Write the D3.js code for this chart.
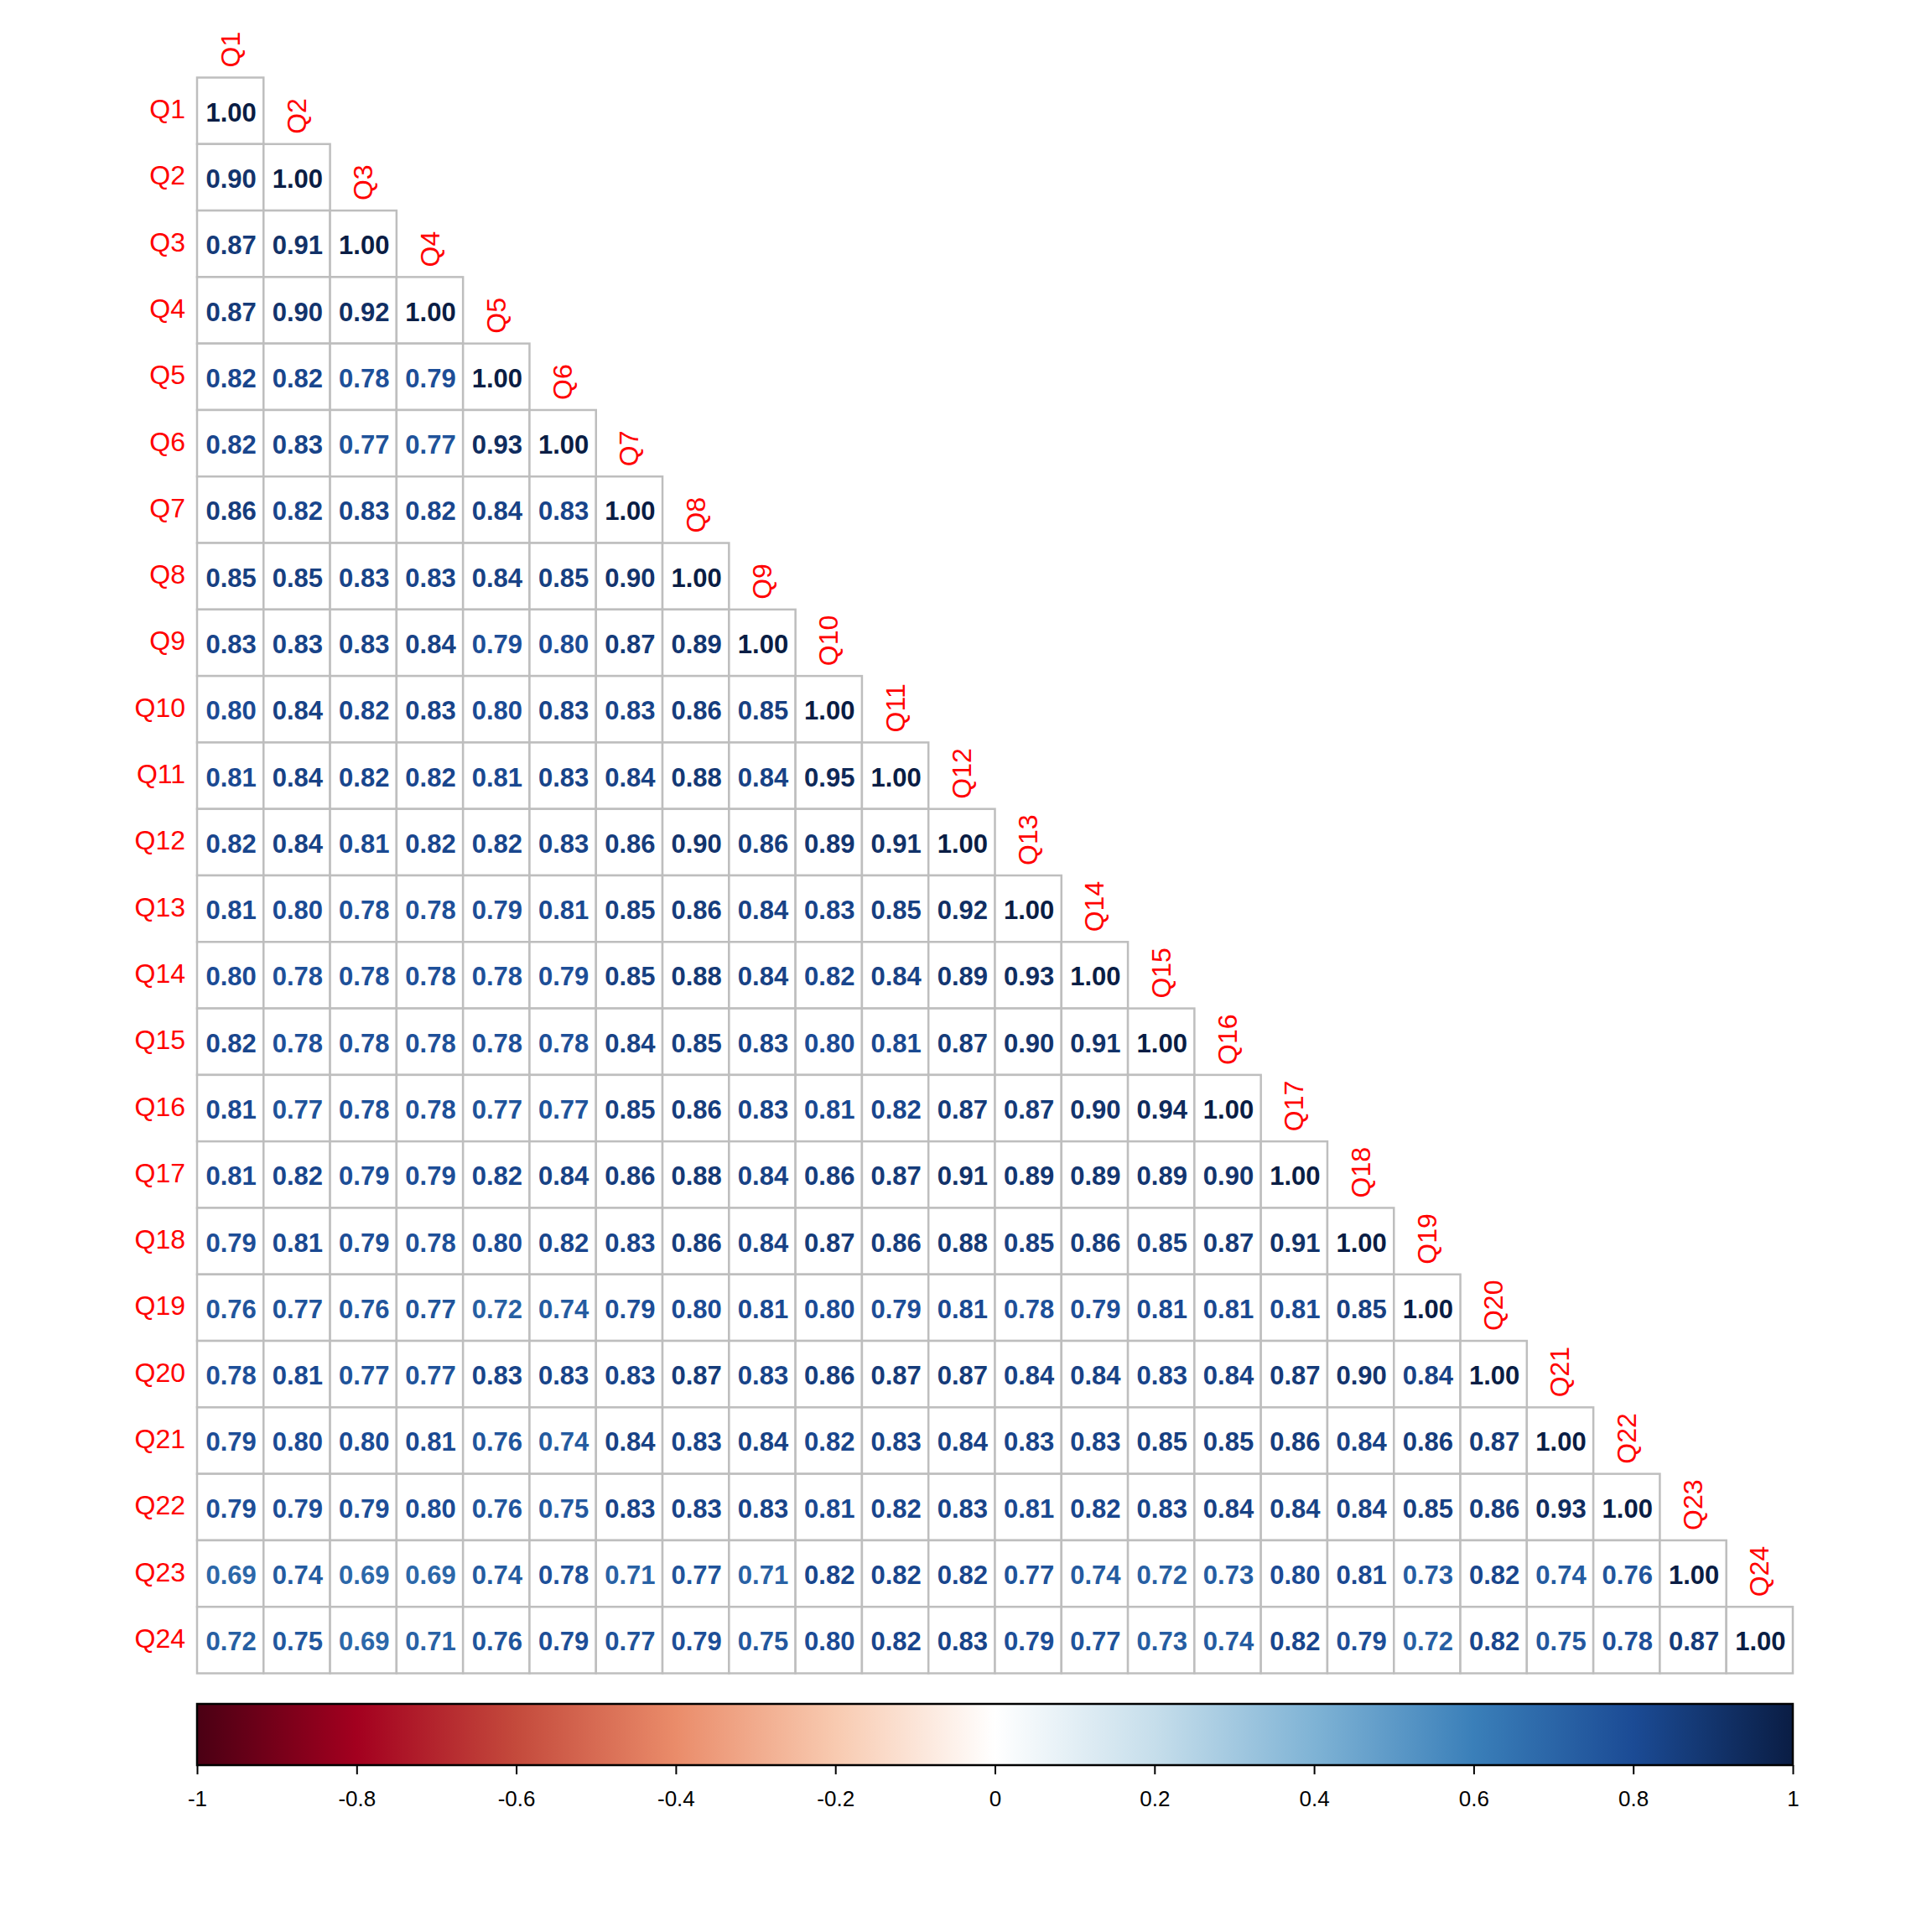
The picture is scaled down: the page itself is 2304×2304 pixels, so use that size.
<!DOCTYPE html>
<html>
<head>
<meta charset="utf-8">
<script src="https://cdn.jsdelivr.net/npm/d3@7"></script>
<style>
  html, body { margin: 0; padding: 0; background: #ffffff; }
  svg { display: block; }
</style>
</head>
<body>
<svg id="chart" width="2304" height="2304"></svg>
<script>
// ---------- DATA ----------
const labels = ["Q1","Q2","Q3","Q4","Q5","Q6","Q7","Q8","Q9","Q10","Q11","Q12",
                "Q13","Q14","Q15","Q16","Q17","Q18","Q19","Q20","Q21","Q22","Q23","Q24"];

// lower-triangle correlation rows (row i has i+1 values)
const corrRows = [
  [1.00],
  [0.90,1.00],
  [0.87,0.91,1.00],
  [0.87,0.90,0.92,1.00],
  [0.82,0.82,0.78,0.79,1.00],
  [0.82,0.83,0.77,0.77,0.93,1.00],
  [0.86,0.82,0.83,0.82,0.84,0.83,1.00],
  [0.85,0.85,0.83,0.83,0.84,0.85,0.90,1.00],
  [0.83,0.83,0.83,0.84,0.79,0.80,0.87,0.89,1.00],
  [0.80,0.84,0.82,0.83,0.80,0.83,0.83,0.86,0.85,1.00],
  [0.81,0.84,0.82,0.82,0.81,0.83,0.84,0.88,0.84,0.95,1.00],
  [0.82,0.84,0.81,0.82,0.82,0.83,0.86,0.90,0.86,0.89,0.91,1.00],
  [0.81,0.80,0.78,0.78,0.79,0.81,0.85,0.86,0.84,0.83,0.85,0.92,1.00],
  [0.80,0.78,0.78,0.78,0.78,0.79,0.85,0.88,0.84,0.82,0.84,0.89,0.93,1.00],
  [0.82,0.78,0.78,0.78,0.78,0.78,0.84,0.85,0.83,0.80,0.81,0.87,0.90,0.91,1.00],
  [0.81,0.77,0.78,0.78,0.77,0.77,0.85,0.86,0.83,0.81,0.82,0.87,0.87,0.90,0.94,1.00],
  [0.81,0.82,0.79,0.79,0.82,0.84,0.86,0.88,0.84,0.86,0.87,0.91,0.89,0.89,0.89,0.90,1.00],
  [0.79,0.81,0.79,0.78,0.80,0.82,0.83,0.86,0.84,0.87,0.86,0.88,0.85,0.86,0.85,0.87,0.91,1.00],
  [0.76,0.77,0.76,0.77,0.72,0.74,0.79,0.80,0.81,0.80,0.79,0.81,0.78,0.79,0.81,0.81,0.81,0.85,1.00],
  [0.78,0.81,0.77,0.77,0.83,0.83,0.83,0.87,0.83,0.86,0.87,0.87,0.84,0.84,0.83,0.84,0.87,0.90,0.84,1.00],
  [0.79,0.80,0.80,0.81,0.76,0.74,0.84,0.83,0.84,0.82,0.83,0.84,0.83,0.83,0.85,0.85,0.86,0.84,0.86,0.87,1.00],
  [0.79,0.79,0.79,0.80,0.76,0.75,0.83,0.83,0.83,0.81,0.82,0.83,0.81,0.82,0.83,0.84,0.84,0.84,0.85,0.86,0.93,1.00],
  [0.69,0.74,0.69,0.69,0.74,0.78,0.71,0.77,0.71,0.82,0.82,0.82,0.77,0.74,0.72,0.73,0.80,0.81,0.73,0.82,0.74,0.76,1.00],
  [0.72,0.75,0.69,0.71,0.76,0.79,0.77,0.79,0.75,0.80,0.82,0.83,0.79,0.77,0.73,0.74,0.82,0.79,0.72,0.82,0.75,0.78,0.87,1.00]
];

const paletteColors = ["#4A0014","#A3001F","#C44A3C","#EA8C6A","#F8CAB0","#FFFFFF",
                       "#C6DEEB","#7FB3D5","#3A7FB9","#1B4B95","#0A1D44"];
const legendTicks = [-1,-0.8,-0.6,-0.4,-0.2,0,0.2,0.4,0.6,0.8,1];

// ---------- LAYOUT ----------
const gridLeft = 235, gridRight = 2138, gridTop = 92.5, gridBottom = 1995.5;
const barTop = 2032, barBottom = 2105;
const FONT = "'Liberation Sans', Arial, Helvetica, sans-serif";

const svg = d3.select("#chart");

const x = d3.scaleBand().domain(labels).range([gridLeft, gridRight]).padding(0);
const y = d3.scaleBand().domain(labels).range([gridTop, gridBottom]).padding(0);
const color = d3.scaleLinear()
  .domain(d3.range(paletteColors.length).map(i => -1 + 2 * i / (paletteColors.length - 1)))
  .range(paletteColors)
  .interpolate(d3.interpolateRgb);

const cells = [];
corrRows.forEach((row, i) => row.forEach((v, j) => cells.push({r: labels[i], c: labels[j], v})));

// cells
const g = svg.append("g");
g.selectAll("rect.cell").data(cells).join("rect")
  .attr("class", "cell")
  .attr("x", d => x(d.c))
  .attr("y", d => y(d.r))
  .attr("width", x.bandwidth())
  .attr("height", y.bandwidth())
  .attr("fill", "#ffffff")
  .attr("stroke", "#BEBEBE")
  .attr("stroke-width", 2.5);

g.selectAll("text.val").data(cells).join("text")
  .attr("class", "val")
  .attr("x", d => x(d.c) + x.bandwidth() / 2 + 1)
  .attr("y", d => y(d.r) + y.bandwidth() / 2 + 2)
  .attr("text-anchor", "middle")
  .attr("dominant-baseline", "central")
  .attr("font-family", FONT)
  .attr("font-weight", "bold")
  .attr("font-size", 31)
  .attr("fill", d => color(d.v))
  .text(d => d.v.toFixed(2));

// row labels
svg.append("g").selectAll("text").data(labels).join("text")
  .attr("x", gridLeft - 14)
  .attr("y", d => y(d) + y.bandwidth() / 2 - 2)
  .attr("text-anchor", "end")
  .attr("dominant-baseline", "central")
  .attr("font-family", FONT)
  .attr("font-size", 32)
  .attr("fill", "#FF0000")
  .text(d => d);

// column labels (above diagonal cell, rotated)
svg.append("g").selectAll("text").data(labels).join("text")
  .attr("transform", d => `translate(${x(d) + x.bandwidth() / 2},${y(d) - 12}) rotate(-90)`)
  .attr("text-anchor", "start")
  .attr("dominant-baseline", "central")
  .attr("font-family", FONT)
  .attr("font-size", 32)
  .attr("fill", "#FF0000")
  .text(d => d);

// ---------- COLOR BAR ----------
const lx = d3.scaleLinear().domain([-1, 1]).range([gridLeft, gridRight]);
const defs = svg.append("defs");
const grad = defs.append("linearGradient").attr("id", "cbar")
  .attr("x1", "0%").attr("x2", "100%").attr("y1", "0%").attr("y2", "0%");
grad.selectAll("stop").data(paletteColors).join("stop")
  .attr("offset", (d, i) => (100 * i / (paletteColors.length - 1)) + "%")
  .attr("stop-color", d => d);

svg.append("rect")
  .attr("x", lx(-1)).attr("y", barTop)
  .attr("width", lx(1) - lx(-1)).attr("height", barBottom - barTop)
  .attr("fill", "url(#cbar)")
  .attr("stroke", "#000000")
  .attr("stroke-width", 2.5);

const axis = d3.axisBottom(lx)
  .tickValues(legendTicks)
  .tickSize(11)
  .tickFormat(d => String(d));
const ax = svg.append("g").attr("transform", `translate(0,${barBottom})`).call(axis);
ax.select(".domain").remove();
ax.selectAll(".tick line").attr("stroke", "#000").attr("stroke-width", 2);
ax.selectAll(".tick text")
  .attr("font-family", FONT)
  .attr("font-size", 26)
  .attr("fill", "#000")
  .attr("dy", "0")
  .attr("y", 49);
</script>
</body>
</html>
